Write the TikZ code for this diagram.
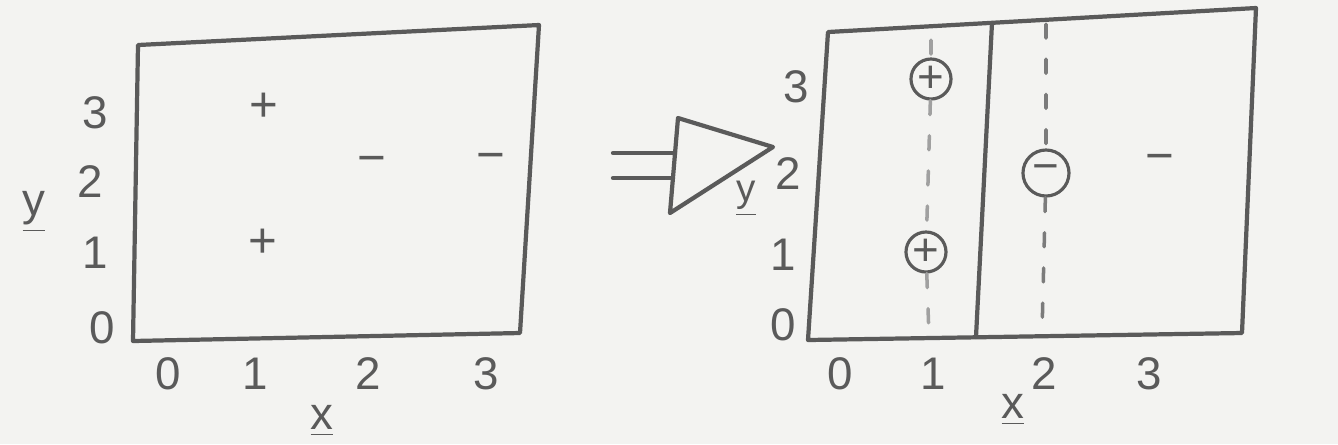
\documentclass[tikz,border=0pt]{standalone}
\usepackage{fontspec}
\setmainfont{Liberation Sans}
\usetikzlibrary{positioning, calc}
\usepackage{xcolor}
\definecolor{paper}{HTML}{F3F3F1}
\definecolor{pencil}{HTML}{5A5A5A}
\definecolor{pencillt}{HTML}{A0A0A0}

\begin{document}
\begin{tikzpicture}[x=0.01cm, y=-0.01cm,
      pen/.style={draw=pencil, line width=1.2pt, line join=round, line cap=round},
      lbl/.style={text=pencil, font=\fontsize{13}{15}\selectfont, inner sep=1pt},
      sgn/.style={text=pencil, font=\fontsize{14}{16}\selectfont, inner sep=0pt},
      ring/.style={circle, draw=pencil, line width=0.9pt, minimum size=0.4cm, inner sep=0pt, text=pencil, font=\fontsize{13}{15}\selectfont},
      guide/.style={draw=pencillt, line width=1pt, line cap=round, dash pattern=on 4pt off 6pt}]
    \fill[paper] (0,0) rectangle (1338,444);

    % left grid
    \coordinate (la) at (138,45); \coordinate (lb) at (539,25);
    \coordinate (lc) at (520,333); \coordinate (ld) at (133,341);
    \draw[pen] (la) -- (lb) -- (lc) -- (ld) -- cycle;
    \foreach \v/\xx/\yy in {0/102/328, 1/95/253, 2/90/182, 3/95/113}
      \node[lbl] (ly\v) at (\xx,\yy) {\v};
    \foreach \v/\xx in {0/168, 1/255, 2/368, 3/486}
      \node[lbl] (lx\v) at (\xx,374) {\v};
    \node[lbl] (lyname) at (34,212) {\underline{y}};
    \node[lbl] (lxname) at (322,421) {\underline{x}};
    \node[sgn] (lp3) at (264,107) {+};
    \node[sgn] (lp1) at (263,243) {+};
    \node[sgn] (lm2) at (372,165) {−};
    \node[sgn] (lm3) at (491,162) {−};

    % arrow
    \coordinate (ta) at (678,118); \coordinate (tb) at (773,147); \coordinate (tc) at (670,213);
    \draw[pen] (ta) -- (tb) -- (tc) -- cycle;
    \coordinate (s1) at (613,153); \coordinate (e1) at ($(ta)!0.36!(tc)$);
    \coordinate (s2) at (613,178); \coordinate (e2) at ($(ta)!0.63!(tc)$);
    \draw[pen] (s1) -- (s1 -| e1);
    \draw[pen] (s2) -- (s2 -| e2);
    \node[lbl, font=\fontsize{11}{13}\selectfont] (tyname) at (746,199) {\underline{y}};

    % right grid
    \coordinate (ra) at (828,32); \coordinate (rb) at (1256,8);
    \coordinate (rc) at (1242,333); \coordinate (rd) at (808,340);
    \draw[pen] (ra) -- (rb) -- (rc) -- (rd) -- cycle;
    \coordinate (cut1) at (992,23); \coordinate (cut2) at (976,337);
    \draw[pen] (cut1) -- (cut2);
    \foreach \v/\xx/\yy in {0/783/325, 1/783/255, 2/788/174, 3/796/87}
      \node[lbl] (ry\v) at (\xx,\yy) {\v};
    \foreach \v/\xx in {0/840, 1/933, 2/1044, 3/1149}
      \node[lbl] (rx\v) at (\xx,374) {\v};
    \node[lbl] (rxname) at (1013,410) {\underline{x}};
    \node[ring] (rp3) at (931,79) {+};
    \node[ring] (rp1) at (926,252) {+};
    \node[ring, minimum size=0.46cm] (rm2) at (1046,173) {−};
    \node[sgn] (rm3) at (1160,163) {−};
    \coordinate (g1) at (931,40); \coordinate (g2) at (929,336);
    \coordinate (h1) at (1046,24); \coordinate (h2) at (1042,333);
    \draw[guide] (g1) -- (rp3) -- (rp1) -- (g2);
    \draw[guide, draw=pencil!80] (h1) -- (rm2) -- (h2);
  \end{tikzpicture}
\end{document}
